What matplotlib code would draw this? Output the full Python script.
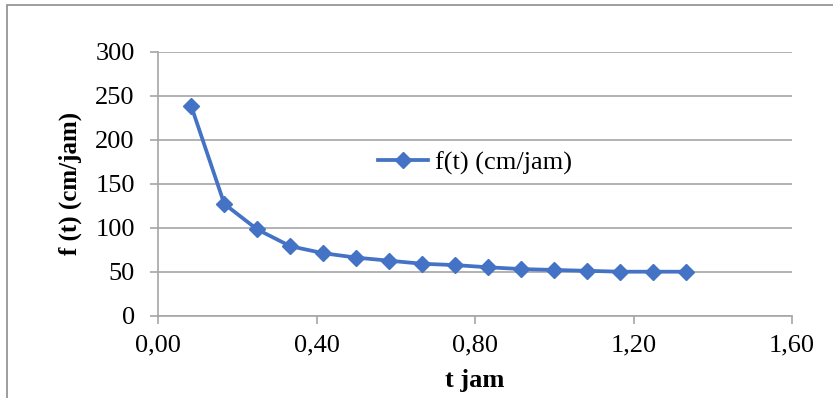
import matplotlib
matplotlib.use("Agg")
import matplotlib.pyplot as plt
from matplotlib.patches import Rectangle
from matplotlib.ticker import FuncFormatter, MultipleLocator

# Infiltration rate over time (5-minute intervals, in hours)
t_jam = [0.0833, 0.1667, 0.25, 0.3333, 0.4167, 0.5, 0.5833, 0.6667,
         0.75, 0.8333, 0.9167, 1.0, 1.0833, 1.1667, 1.25, 1.3333]
f_t = [238, 127, 98, 79, 71, 66, 62.5, 59, 57.5, 55, 53, 52, 51, 50, 50, 50]
series_label = "f(t) (cm/jam)"
x_label = "t jam"
y_label = "f (t) (cm/jam)"

plt.rcParams["font.family"] = ["Liberation Serif", "DejaVu Serif"]

W, H = 833, 398
fig = plt.figure(figsize=(W / 100, H / 100), dpi=100)
ax = fig.add_axes([158.3 / W, 1 - 315.7 / H, (792 - 158.3) / W, (315.7 - 51.7) / H])

blue = "#4472C4"
grid_gray = "#A6A6A6"

ax.plot(t_jam, f_t, color=blue, lw=2.7, marker="D", markersize=8.5,
        markerfacecolor=blue, markeredgecolor=blue, label=series_label,
        solid_joinstyle="round", zorder=3)

ax.set_xlim(0, 1.6)
ax.set_ylim(0, 300)
ax.xaxis.set_major_locator(MultipleLocator(0.4))
ax.yaxis.set_major_locator(MultipleLocator(50))
ax.xaxis.set_major_formatter(FuncFormatter(lambda v, p: f"{v:.2f}".replace(".", ",")))
ax.yaxis.set_major_formatter(FuncFormatter(lambda v, p: f"{v:.0f}"))

ax.yaxis.grid(True, color=grid_gray, lw=1.2)
ax.set_axisbelow(True)
for side in ("top", "right"):
    ax.spines[side].set_visible(False)
for side in ("left", "bottom"):
    ax.spines[side].set_color(grid_gray)
    ax.spines[side].set_linewidth(1.2)

ax.tick_params(axis="both", colors=grid_gray, labelcolor="black", labelsize=19,
               direction="out", length=6, width=1.2)
ax.tick_params(axis="y", pad=11)
ax.tick_params(axis="x", pad=7.5)

ax.set_xlabel(x_label, fontsize=19, fontweight="bold")
ax.xaxis.set_label_coords(0.5, (315.7 - 381) / 264)
ax.xaxis.label.set_va("center")
ax.set_ylabel(y_label, fontsize=18, fontweight="bold")
ax.yaxis.set_label_coords((70.5 - 158.3) / 633.7, 0.5)
ax.yaxis.label.set_va("center")

ax.legend(loc="center left", bbox_to_anchor=((378 - 158.3) / 633.7, (315.7 - 163) / 264),
          frameon=False, fontsize=19, handlelength=1.9, handletextpad=0.25,
          borderpad=0, borderaxespad=0)

# Chart-area border
fig.patches.append(Rectangle((7 / W, -0.1), 1.2, 1.1 - 5 / H, transform=fig.transFigure,
                             fill=False, edgecolor="#8C8C8C", lw=1.2, zorder=0))

fig.savefig("out.png", dpi=100)
